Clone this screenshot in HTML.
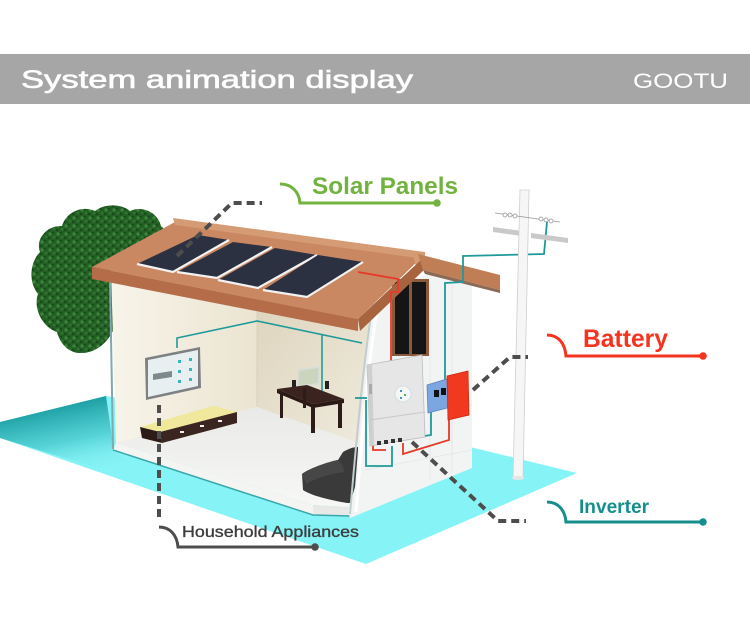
<!DOCTYPE html>
<html><head><meta charset="utf-8"><style>
html,body{margin:0;padding:0;background:#fff;}
svg{display:block;}
</style></head><body>
<svg width="750" height="623" viewBox="0 0 750 623" xmlns="http://www.w3.org/2000/svg">
<defs>
<linearGradient id="tealShade" gradientUnits="userSpaceOnUse" x1="70" y1="402" x2="85" y2="475">
<stop offset="0" stop-color="#1a9ca0" stop-opacity="1"/>
<stop offset="0.5" stop-color="#3fc3c7" stop-opacity="0.7"/>
<stop offset="1" stop-color="#86f3f6" stop-opacity="0"/>
</linearGradient>
<linearGradient id="backWall" x1="0" y1="0" x2="1" y2="1">
<stop offset="0" stop-color="#ddd4bc"/><stop offset="1" stop-color="#f1ece0"/>
</linearGradient>
<linearGradient id="leftWall" x1="0" y1="0" x2="1" y2="0">
<stop offset="0" stop-color="#f7f4ea"/><stop offset="1" stop-color="#ebe4d0"/>
</linearGradient>
<linearGradient id="floorG" x1="0" y1="0" x2="0" y2="1">
<stop offset="0" stop-color="#e9e9e7"/><stop offset="1" stop-color="#f7f7f6"/>
</linearGradient>
<pattern id="leaves" width="8" height="8" patternUnits="userSpaceOnUse">
<rect width="8" height="8" fill="#235e25"/>
<circle cx="2" cy="2" r="1.6" fill="#3d8739"/>
<circle cx="6" cy="5" r="1.4" fill="#307631"/>
<circle cx="5" cy="1" r="0.9" fill="#123d14"/>
<circle cx="1" cy="6" r="1" fill="#143f16"/>
</pattern>
</defs>
<rect width="750" height="623" fill="#fff"/>

<!-- header -->
<rect x="0" y="54" width="750" height="50" fill="#a6a6a6"/>
<text x="21" y="88" font-family="Liberation Sans, sans-serif" font-size="25" fill="#fff" stroke="#fff" stroke-width="0.6" textLength="392" lengthAdjust="spacingAndGlyphs">System animation display</text>
<text x="633" y="88" font-family="Liberation Sans, sans-serif" font-size="21" fill="#fff" textLength="95" lengthAdjust="spacingAndGlyphs">GOOTU</text>

<!-- ground plane -->
<polygon points="0,422 106,396 470,447 577,473 366,564 0,438" fill="#86f3f6"/>
<polygon points="0,422 106,396 114,452 200,500 0,438" fill="url(#tealShade)"/>

<!-- tree -->
<path d="M57,332 C42,327 33,308 38,294 C28,282 30,262 40,252 C35,238 48,225 62,226 C66,212 82,205 95,211 C105,203 122,204 130,211 C143,205 158,213 161,226 C169,232 167,245 164,252 L164,300 L112,332 C108,342 95,354 80,353 C69,353 60,344 57,332 Z" fill="url(#leaves)"/>

<!-- interior walls -->
<polygon points="111,270 257,292 257,407 116,444" fill="url(#leftWall)"/>
<polygon points="257,292 382,305 370,452 257,407" fill="url(#backWall)"/>
<line x1="257" y1="300" x2="257" y2="407" stroke="#d8cfb8" stroke-width="1"/>
<!-- floor -->
<polygon points="116,443 257,407 368,446 350,507 313,505" fill="url(#floorG)"/>
<polygon points="116,443 313,505 313,515 113,450" fill="#f4f4f2"/>
<polygon points="313,505 350,507 350,516 313,515" fill="#e8e8e6"/>
<polyline points="113,450 313,515 350,516" fill="none" stroke="#3aa7aa" stroke-width="1.5"/>
<line x1="110" y1="280" x2="113" y2="449" stroke="#7fa9ad" stroke-width="2"/>

<!-- interior teal wires -->
<polyline points="177,348 177,338 257,321 362,343" fill="none" stroke="#1f9a9a" stroke-width="1.6"/>
<line x1="322" y1="334" x2="322" y2="398" stroke="#1f9a9a" stroke-width="1.6"/>

<!-- TV -->
<polygon points="145,358 200,347 201,388 146,400" fill="#7d8184"/>
<polygon points="148,360 198,350 198,386 148,397" fill="#e8eff0"/>
<polygon points="153,374 172,371 172,377 153,380" fill="#7c8a8d"/>
<g fill="#3bb3bb">
<rect x="178" y="360" width="3" height="3"/><rect x="189" y="358" width="3" height="3"/>
<rect x="178" y="370" width="3" height="3"/><rect x="189" y="368" width="3" height="3"/>
<rect x="178" y="380" width="3" height="3"/><rect x="189" y="378" width="3" height="3"/>
</g>

<!-- bench -->
<polygon points="140,427 213,406 237,412 160,432" fill="#f0e89a"/>
<polygon points="160,432 237,412 237,423 162,443" fill="#3a2520"/>
<polygon points="140,427 160,432 162,443 142,438" fill="#2c1b17"/>
<g fill="#f2f2f2"><rect x="180" y="431" width="4" height="2"/><rect x="200" y="425" width="4" height="2"/><rect x="218" y="420" width="4" height="2"/></g>

<!-- desk -->
<polygon points="297,369 320,366 320,385 297,387" fill="#d9ddd8"/>
<polygon points="299,371 318,368 318,383 299,385" fill="#c9d6bd"/>
<rect x="292" y="380" width="4" height="8" fill="#222"/><rect x="325" y="381" width="4" height="8" fill="#222"/>
<polygon points="277,389 307,385 344,399 313,404" fill="#3b2420"/>
<polygon points="277,389 313,404 313,408 277,393" fill="#2a1915"/>
<polygon points="313,404 344,399 344,403 313,408" fill="#2a1915"/>
<g fill="#2e1c18"><rect x="280" y="392" width="3" height="26"/><rect x="311" y="406" width="4" height="27"/><rect x="338" y="402" width="4" height="26"/><rect x="303" y="388" width="3" height="20"/></g>

<!-- sofa -->
<path d="M302,474 C310,468 328,462 338,460 L343,452 C348,449 353,447 358,447 L358,503 L347,503 C330,500 312,496 303,490 Z" fill="#3a3a3a"/>
<path d="M302,474 C310,468 328,462 338,460 C342,464 344,468 344,472 C330,474 316,478 306,484 Z" fill="#474747"/>

<!-- right exterior wall -->
<polygon points="373,300 385,285 440,272 472,282 472,468 350,518 348,510 355,487 362,400 367,350" fill="#f2f4f4"/>
<path d="M374,298 C366,340 358,420 350,514" fill="none" stroke="#c2cdcf" stroke-width="2"/>
<path d="M379,298 C371,340 363,420 356,512" fill="none" stroke="#ffffff" stroke-width="3"/>
<g stroke="#e2e6e6" stroke-width="0.8">
<line x1="430" y1="285" x2="430" y2="480"/><line x1="452" y1="285" x2="452" y2="472"/>
<line x1="375" y1="420" x2="472" y2="405"/><line x1="365" y1="470" x2="472" y2="450"/>
</g>

<!-- window -->
<rect x="392" y="279" width="37" height="77" fill="#8b5a3c"/>
<rect x="395" y="282" width="14" height="72" fill="#151515"/>
<rect x="412" y="282" width="14" height="72" fill="#151515"/>

<!-- roof main -->
<polygon points="92,267 175,222 423,256 358,319" fill="#c98762"/>
<polygon points="173,218 425,252 425,259 175,225" fill="#d59b75"/>
<polygon points="413,255 424,253 426,266 416,267" fill="#d59b75"/>
<polygon points="92,267 358,319 358,331 92,279" fill="#b46d48"/>
<polygon points="358,319 423,258 426,268 360,331" fill="#a8643f"/>
<!-- right roof -->
<polygon points="418,254 500,275 500,290 423,270" fill="#c07e57"/>
<polygon points="423,270 500,290 500,293 425,274" fill="#8d6a55"/>

<!-- solar panels -->
<g>
<polygon points="137,264 198,235 229,240 173,272" fill="#2c3141"/>
<polyline points="137,264 173,272 229,240" fill="none" stroke="#f2f2f2" stroke-width="2.2"/>
<polygon points="177,272 233,242 272,247 217,278" fill="#2c3141"/>
<polyline points="177,272 217,278 272,247" fill="none" stroke="#f2f2f2" stroke-width="2.2"/>
<polygon points="218,280 275,248 317,255 258,288" fill="#2c3141"/>
<polyline points="218,280 258,288 317,255" fill="none" stroke="#f2f2f2" stroke-width="2.2"/>
<polygon points="263,290 318,255 363,262 307,297" fill="#2c3141"/>
<polyline points="263,290 307,297 363,262" fill="none" stroke="#f2f2f2" stroke-width="2.2"/>
</g>

<!-- red wires -->
<polyline points="358,272 398,279 398,292 391,292 391,365" fill="none" stroke="#e53a2a" stroke-width="1.8"/>
<polyline points="373,444 373,450 386,450" fill="none" stroke="#e53a2a" stroke-width="1.8"/>
<polyline points="403,443 403,454 449,440 449,418" fill="none" stroke="#e53a2a" stroke-width="1.8"/>

<!-- teal wires exterior -->
<polyline points="547,222 544,254 463,256 463,282 445,283 445,384" fill="none" stroke="#1f9a9a" stroke-width="1.8"/>
<polyline points="355,398 367,398" fill="none" stroke="#1f9a9a" stroke-width="1.8"/>
<polyline points="366,400 366,466 392,466 392,446" fill="none" stroke="#1f9a9a" stroke-width="1.8"/>
<polyline points="431,412 431,435 411,438" fill="none" stroke="#1f9a9a" stroke-width="1.8"/>

<!-- inverter -->
<polygon points="367,365 422,355 425,437 370,446" fill="#e6e6e6" stroke="#bdbdbd" stroke-width="0.8"/>
<polygon points="367,365 372,364 374,445 370,446" fill="#cfcfcf"/>
<line x1="370" y1="420" x2="425" y2="412" stroke="#c8c8c8" stroke-width="1"/>
<circle cx="403" cy="394" r="8" fill="#f4f7f7" stroke="#d5dddd" stroke-width="1"/>
<rect x="400" y="390" width="2" height="2" fill="#4a90c8"/><rect x="404" y="394" width="2" height="2" fill="#5ab55a"/><rect x="400" y="397" width="2" height="2" fill="#4a90c8"/>
<rect x="369" y="384" width="3" height="10" fill="#aaa"/>
<g fill="#333"><rect x="377" y="441" width="4" height="4"/><rect x="384" y="440" width="4" height="4"/><rect x="391" y="439" width="4" height="4"/><rect x="398" y="438" width="4" height="4"/></g>

<!-- blue box -->
<polygon points="427,385 450,378 451,407 428,413" fill="#7ca6df" stroke="#5b84bd" stroke-width="0.8"/>
<rect x="434" y="390" width="5" height="7" fill="#111"/><rect x="441" y="388" width="5" height="7" fill="#111"/>
<!-- red battery -->
<polygon points="447,376 468,371 469,415 448,420" fill="#f0391f" stroke="#c92a14" stroke-width="0.8"/>

<!-- pole -->
<polygon points="493,227 522,231 522,236 493,232" fill="#c9c9c9"/>
<polygon points="531,233 568,238 568,243 531,238" fill="#c9c9c9"/>
<polygon points="520,190 529,190 523,478 513,478" fill="#f6f6f6" stroke="#cfcfcf" stroke-width="0.8"/>
<ellipse cx="518" cy="478" rx="6" ry="2" fill="#e6e6e6"/>
<line x1="495" y1="213" x2="560" y2="222" stroke="#9a9a9a" stroke-width="0.8"/>
<g fill="#fff" stroke="#8a8a8a" stroke-width="0.7">
<circle cx="505" cy="215" r="2"/><circle cx="510" cy="215" r="2"/><circle cx="515" cy="216" r="2"/>
<circle cx="541" cy="219" r="2"/><circle cx="546" cy="220" r="2"/><circle cx="551" cy="221" r="2"/>
</g>

<!-- dashed leaders -->
<g fill="none" stroke="#4d4d4d" stroke-width="4" stroke-dasharray="8 5">
<polyline points="177,256 232,203 262,203"/>
<polyline points="473,390 510,357 528,357"/>
<polyline points="412,442 498,521 526,521"/>
<line x1="159" y1="405" x2="159" y2="518"/>
</g>

<!-- Solar Panels label -->
<path d="M280,184 C291,184 299,191 300,203 L437,203" fill="none" stroke="#72b340" stroke-width="3"/>
<circle cx="437" cy="203" r="3.8" fill="#72b340"/>
<text x="312" y="194" font-family="Liberation Sans, sans-serif" font-weight="bold" font-size="24" fill="#72b340" textLength="146" lengthAdjust="spacingAndGlyphs">Solar Panels</text>

<!-- Battery label -->
<path d="M547,335 C558,335 565,343 566,356 L703,356" fill="none" stroke="#f5331f" stroke-width="3"/>
<circle cx="703" cy="356" r="3.8" fill="#f5331f"/>
<text x="583" y="347" font-family="Liberation Sans, sans-serif" font-weight="bold" font-size="25" fill="#f5331f" textLength="85" lengthAdjust="spacingAndGlyphs">Battery</text>

<!-- Inverter label -->
<path d="M547,502 C558,502 565,510 566,522 L703,522" fill="none" stroke="#168f8c" stroke-width="3"/>
<circle cx="703" cy="522" r="3.8" fill="#168f8c"/>
<text x="579" y="513" font-family="Liberation Sans, sans-serif" font-weight="bold" font-size="19" fill="#168f8c" textLength="70" lengthAdjust="spacingAndGlyphs">Inverter</text>

<!-- Household Appliances label -->
<path d="M159,527 C170,527 177,535 178,547 L315,547" fill="none" stroke="#4d4d4d" stroke-width="3"/>
<circle cx="315" cy="547" r="3.8" fill="#4d4d4d"/>
<text x="182" y="537" font-family="Liberation Sans, sans-serif" font-size="16" fill="#3d3d3d" stroke="#3d3d3d" stroke-width="0.35" textLength="177" lengthAdjust="spacingAndGlyphs">Household Appliances</text>
</svg>
</body></html>
